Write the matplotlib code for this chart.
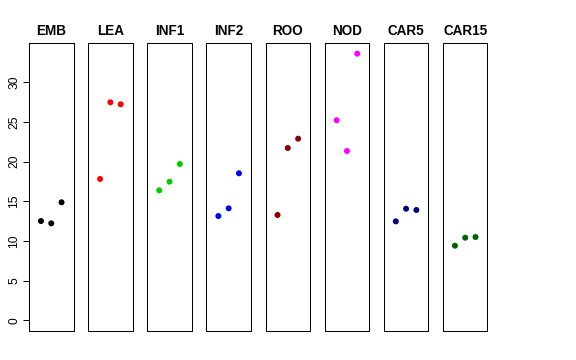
import matplotlib
matplotlib.use('Agg')
import matplotlib.pyplot as plt

plt.rcParams['font.family'] = ['Liberation Sans', 'DejaVu Sans']

tissues = ['EMB', 'LEA', 'INF1', 'INF2', 'ROO', 'NOD', 'CAR5', 'CAR15']
colors = ['black', 'red', '#00CD00', 'blue', '#8B0000', 'magenta', '#000080', '#006400']
reps = [1, 2, 3]
emb = [12.52, 12.23, 14.88]
lea = [17.82, 27.49, 27.24]
inf1 = [16.39, 17.48, 19.71]
inf2 = [13.15, 14.12, 18.54]
roo = [13.28, 21.73, 22.90]
nod = [25.22, 21.35, 33.62]
car5 = [12.48, 14.07, 13.91]
car15 = [9.41, 10.42, 10.50]
values = [emb, lea, inf1, inf2, roo, nod, car5, car15]
yticks = [0, 5, 10, 15, 20, 25, 30]

W, H = 576, 360
fig = plt.figure(figsize=(W / 72, H / 72), dpi=72)

ymax = max(max(v) for v in values)
ylo, yhi = -0.04 * ymax, ymax * 1.04
left0, pitch, pw = 29, 59.14, 44.5
top, bottom = 43, 331

for i, (name, col, vals) in enumerate(zip(tissues, colors, values)):
    ax = fig.add_axes([(left0 + i * pitch) / W, 1 - bottom / H, pw / W, (bottom - top) / H])
    ax.scatter(reps, vals, s=36, color=col, edgecolors='none', zorder=3)
    ax.set_xlim(-0.16, 4.16)
    ax.set_ylim(ylo, yhi)
    ax.set_xticks([])
    ax.set_title(name, fontsize=13.5, fontweight='bold', pad=8)
    for s in ax.spines.values():
        s.set_linewidth(1.0)
        s.set_color('black')
    if i == 0:
        ax.set_yticks(yticks)
        ax.tick_params(axis='y', length=6, width=1, labelsize=12, pad=3)
        for lab in ax.get_yticklabels():
            lab.set_rotation(90)
            lab.set_va('center')
    else:
        ax.set_yticks([])

fig.savefig('out.png', dpi=72)
